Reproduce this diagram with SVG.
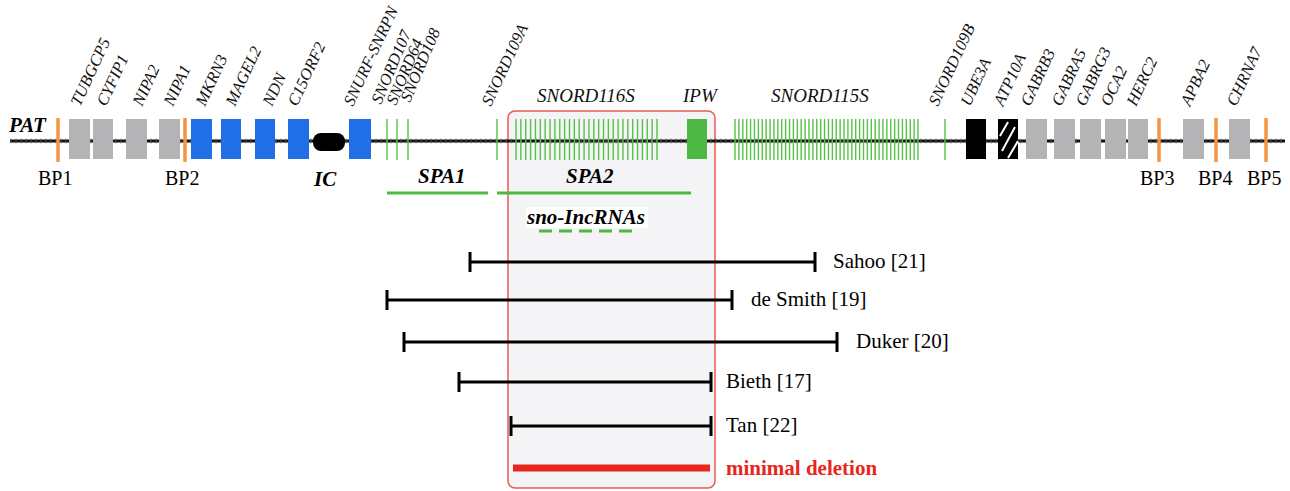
<svg xmlns="http://www.w3.org/2000/svg" width="1290" height="491" viewBox="0 0 1290 491">
<style>
.bg{fill:#ffffff}
.gray{fill:#b4b4b7}
.blue{fill:#1f6fe6}
.bp{stroke:#f59442;stroke-width:3.5}
.sno{stroke:#55c247;stroke-width:1.4;fill:none}
.gl{font-family:"Liberation Serif",serif;font-style:italic;font-size:16.5px;fill:#111}
.hl{font-family:"Liberation Serif",serif;font-style:italic;font-size:19px;fill:#111}
.bpt{font-family:"Liberation Serif",serif;font-size:20px;fill:#000}
.bi{font-family:"Liberation Serif",serif;font-style:italic;font-weight:bold;font-size:21px;fill:#000}
.ref{font-family:"Liberation Serif",serif;font-size:21px;fill:#000}
.rng{stroke:#000;stroke-width:3;fill:none}
.spa{stroke:#4cbb40;stroke-width:3}
</style>
<rect class="bg" x="0" y="0" width="1290" height="491"/>
<rect id="minimal-region" x="508" y="111" width="207" height="377" rx="7" fill="#f4f4f7" stroke="#ea5a50" stroke-width="1.5"/>

<g id="connectors">
<line id="chromosome" x1="10" y1="141" x2="1285" y2="141" stroke="#111" stroke-width="3"/>
<line x1="10" y1="141" x2="1285" y2="141" stroke="#555" stroke-width="4.5" stroke-dasharray="2 3" opacity="0.5"/>
<line class="spa" x1="387" y1="193" x2="488" y2="193"/>
<line class="spa" x1="497" y1="193" x2="691" y2="193"/>
<line x1="539" y1="231" x2="632" y2="231" stroke="#4cbb40" stroke-width="3" stroke-dasharray="13 7"/>
<path class="rng" d="M470 262H815M470 252V272M815 252V272"/>
<path class="rng" d="M387 300H732M387 290V310M732 290V310"/>
<path class="rng" d="M404 342H837M404 332V352M837 332V352"/>
<path class="rng" d="M459 382H711M459 372V392M711 372V392"/>
<path class="rng" d="M511 426H711M511 416V436M711 416V436"/>
<line x1="513" y1="468" x2="710" y2="468" stroke="#e8261c" stroke-width="7"/>
</g>

<text class="bi" x="9" y="132" font-size="19">PAT</text>

<g id="BP1"><line class="bp" x1="58" y1="118" x2="58" y2="162"/><text class="bpt" x="38" y="185">BP1</text></g>
<g id="TUBGCP5"><rect class="gray" x="69" y="119" width="21" height="40"/><text class="gl" transform="translate(80,107) rotate(-65)">TUBGCP5</text></g>
<g id="CYFIP1"><rect class="gray" x="93" y="119" width="20" height="40"/><text class="gl" transform="translate(106,107) rotate(-65)">CYFIP1</text></g>
<g id="NIPA2"><rect class="gray" x="126" y="119" width="21" height="40"/><text class="gl" transform="translate(142,107) rotate(-65)">NIPA2</text></g>
<g id="NIPA1"><rect class="gray" x="159" y="119" width="21" height="40"/><text class="gl" transform="translate(173,107) rotate(-65)">NIPA1</text></g>
<g id="BP2"><line class="bp" x1="185" y1="118" x2="185" y2="162"/><text class="bpt" x="165" y="185">BP2</text></g>
<g id="MKRN3"><rect class="blue" x="191" y="119" width="21" height="40"/><text class="gl" transform="translate(205,107) rotate(-65)">MKRN3</text></g>
<g id="MAGEL2"><rect class="blue" x="221" y="119" width="20" height="40"/><text class="gl" transform="translate(235,107) rotate(-65)">MAGEL2</text></g>
<g id="NDN"><rect class="blue" x="255" y="119" width="20" height="40"/><text class="gl" transform="translate(272,107) rotate(-65)">NDN</text></g>
<g id="C15ORF2"><rect class="blue" x="288" y="119" width="21" height="40"/><text class="gl" transform="translate(297,107) rotate(-65)">C15ORF2</text></g>
<g id="IC"><rect x="313" y="133" width="32" height="18" rx="8" fill="#000"/><text class="bi" x="314" y="186">IC</text></g>
<g id="SNURF-SNRPN"><rect class="blue" x="349" y="119" width="22" height="40"/><text class="gl" transform="translate(353,107) rotate(-65)">SNURF-SNRPN</text></g>
<g id="SNORD107"><line class="sno" x1="387" y1="119" x2="387" y2="160"/><text class="gl" transform="translate(381,105) rotate(-67)">SNORD107</text></g>
<g id="SNORD64"><line class="sno" x1="397" y1="119" x2="397" y2="160"/><text class="gl" transform="translate(396,106) rotate(-67)">SNORD64</text></g>
<g id="SNORD108"><line class="sno" x1="408" y1="119" x2="408" y2="160"/><text class="gl" transform="translate(410,103) rotate(-67)">SNORD108</text></g>
<g id="SNORD109A"><line class="sno" x1="497" y1="119" x2="497" y2="160"/><text class="gl" transform="translate(491,107) rotate(-65)">SNORD109A</text></g>
<g id="SNORD116S"><path class="sno" d="M516 119v41m4.862-41v41m4.862-41v41m4.862-41v41m4.862-41v41m4.862-41v41m4.862-41v41m4.862-41v41m4.862-41v41m4.862-41v41m4.862-41v41m4.862-41v41m4.862-41v41m4.862-41v41m4.862-41v41m4.862-41v41m4.862-41v41m4.862-41v41m4.862-41v41m4.862-41v41m4.862-41v41m4.862-41v41m4.862-41v41m4.862-41v41m4.862-41v41m4.862-41v41m4.862-41v41m4.862-41v41m4.862-41v41m4.862-41v41"/><text class="hl" x="537" y="102">SNORD116S</text></g>
<g id="IPW"><rect x="687" y="119" width="20" height="40" fill="#4db843"/><text class="hl" x="683" y="102">IPW</text></g>
<g id="SNORD115S"><path class="sno" d="M735 119v41m3.894-41v41m3.894-41v41m3.894-41v41m3.894-41v41m3.894-41v41m3.894-41v41m3.894-41v41m3.894-41v41m3.894-41v41m3.894-41v41m3.894-41v41m3.894-41v41m3.894-41v41m3.894-41v41m3.894-41v41m3.894-41v41m3.894-41v41m3.894-41v41m3.894-41v41m3.894-41v41m3.894-41v41m3.894-41v41m3.894-41v41m3.894-41v41m3.894-41v41m3.894-41v41m3.894-41v41m3.894-41v41m3.894-41v41m3.894-41v41m3.894-41v41m3.894-41v41m3.894-41v41m3.894-41v41m3.894-41v41m3.894-41v41m3.894-41v41m3.894-41v41m3.894-41v41m3.894-41v41m3.894-41v41m3.894-41v41m3.894-41v41m3.894-41v41m3.894-41v41m3.894-41v41m3.894-41v41"/><text class="hl" x="771" y="102">SNORD115S</text></g>
<g id="SNORD109B"><line class="sno" x1="945" y1="119" x2="945" y2="160"/><text class="gl" transform="translate(938,107) rotate(-65)">SNORD109B</text></g>
<g id="UBE3A"><rect x="966" y="119" width="20" height="40" fill="#000"/><text class="gl" transform="translate(970,107) rotate(-65)">UBE3A</text></g>
<g id="ATP10A"><rect x="998" y="119" width="20" height="40" fill="#000"/><path d="M1000 136L1008 122M1002 151L1015 127M1008 158L1018 141" stroke="#fff" stroke-width="2"/><text class="gl" transform="translate(1003,107) rotate(-65)">ATP10A</text></g>
<g id="GABRB3"><rect class="gray" x="1026" y="119" width="21" height="40"/><text class="gl" transform="translate(1030,107) rotate(-65)">GABRB3</text></g>
<g id="GABRA5"><rect class="gray" x="1054" y="119" width="21" height="40"/><text class="gl" transform="translate(1061,107) rotate(-65)">GABRA5</text></g>
<g id="GABRG3"><rect class="gray" x="1080" y="119" width="21" height="40"/><text class="gl" transform="translate(1085,107) rotate(-65)">GABRG3</text></g>
<g id="OCA2"><rect class="gray" x="1105" y="119" width="21" height="40"/><text class="gl" transform="translate(1110,107) rotate(-65)">OCA2</text></g>
<g id="HERC2"><rect class="gray" x="1128" y="119" width="20" height="40"/><text class="gl" transform="translate(1136,107) rotate(-65)">HERC2</text></g>
<g id="BP3"><line class="bp" x1="1159" y1="118" x2="1159" y2="162"/><text class="bpt" x="1140" y="185">BP3</text></g>
<g id="APBA2"><rect class="gray" x="1183" y="119" width="21" height="40"/><text class="gl" transform="translate(1190,107) rotate(-65)">APBA2</text></g>
<g id="BP4"><line class="bp" x1="1216" y1="118" x2="1216" y2="162"/><text class="bpt" x="1198" y="185">BP4</text></g>
<g id="CHRNA7"><rect class="gray" x="1229" y="119" width="21" height="40"/><text class="gl" transform="translate(1236,107) rotate(-65)">CHRNA7</text></g>
<g id="BP5"><line class="bp" x1="1266" y1="118" x2="1266" y2="162"/><text class="bpt" x="1247" y="185">BP5</text></g>

<g id="SPA1"><text class="bi" x="418" y="183">SPA1</text></g>
<g id="SPA2"><text class="bi" x="566" y="183">SPA2</text></g>
<g id="sno-lncRNAs"><rect x="526" y="207" width="122" height="21" fill="#fff"/><text class="bi" x="527" y="224" font-size="19.5">sno-IncRNAs</text></g>

<g id="Sahoo"><text class="ref" x="833" y="268">Sahoo [21]</text></g>
<g id="deSmith"><text class="ref" x="751" y="306">de Smith [19]</text></g>
<g id="Duker"><text class="ref" x="856" y="348">Duker [20]</text></g>
<g id="Bieth"><text class="ref" x="726" y="388">Bieth [17]</text></g>
<g id="Tan"><text class="ref" x="726" y="432">Tan [22]</text></g>
<g id="minimal"><text x="726" y="475" font-family="Liberation Serif, serif" font-weight="bold" font-size="21" fill="#e8261c">minimal deletion</text></g>
</svg>
